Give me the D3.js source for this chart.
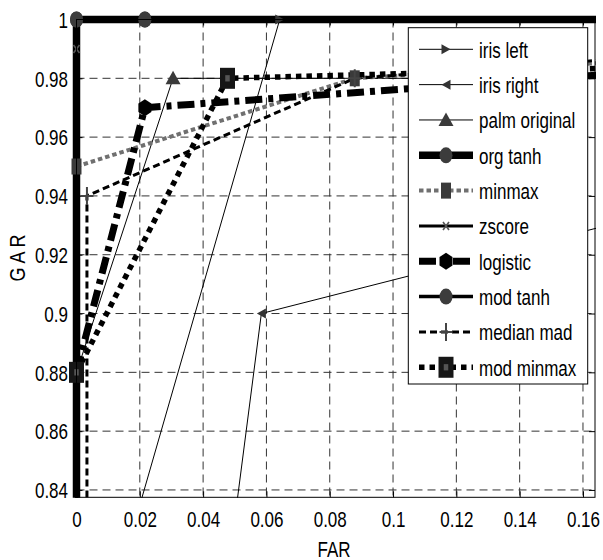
<!DOCTYPE html>
<html>
<head>
<meta charset="utf-8">
<script src="https://cdn.jsdelivr.net/npm/d3@7"></script>
<style>
  body { margin: 0; background: #fff; }
  svg { display: block; }
  text { font-family: "Liberation Sans", Arial, sans-serif; fill: #000; }
</style>
</head>
<body>
<svg id="chart" width="603" height="560"></svg>
<script>
// ---- data: [FAR, GAR] pairs per fusion method ----
const irisLeft     = [[0.0187, 0.83], [0.0642, 1.0]];
const irisRight    = [[0.0500, 0.83], [0.0584, 0.90], [0.1700, 0.9306]];
const palmOriginal = [[0, 0.88], [0.0305, 0.98], [0.1700, 0.98]];
const orgTanh      = [[0, 0.80], [0, 1.0], [0.0216, 1.0], [0.1700, 1.0]];
const minmax       = [[0, 0.95], [0.0879, 0.98], [0.1700, 0.9855]];
const zscore       = [[0, 0.80], [0, 0.99], [0, 1.0], [0.0216, 1.0], [0.1700, 1.0]];
const logistic     = [[0, 0.88], [0.0216, 0.97], [0.1700, 0.9815]];
const modTanh      = [[0, 0.80], [0, 1.0], [0.0216, 1.0], [0.1700, 1.0]];
const medianMad    = [[0.0033, 0.80], [0.0033, 0.94], [0.0879, 0.98], [0.1700, 0.9865]];
const modMinmax    = [[0, 0.88], [0.0477, 0.98], [0.1700, 0.9835]];

const seriesNames = ["iris left", "iris right", "palm original", "org tanh", "minmax",
                     "zscore", "logistic", "mod tanh", "median mad", "mod minmax"];
const seriesData  = [irisLeft, irisRight, palmOriginal, orgTanh, minmax,
                     zscore, logistic, modTanh, medianMad, modMinmax];

const farTicks = [0, 0.02, 0.04, 0.06, 0.08, 0.1, 0.12, 0.14, 0.16];
const farTickLabels = ["0", "0.02", "0.04", "0.06", "0.08", "0.1", "0.12", "0.14", "0.16"];
const garTicks = [0.84, 0.86, 0.88, 0.9, 0.92, 0.94, 0.96, 0.98, 1];
const garTickLabels = ["0.84", "0.86", "0.88", "0.9", "0.92", "0.94", "0.96", "0.98", "1"];

// ---- line / marker styles, in the same order as seriesNames ----
const styles = [
  { w: 1,   color: "#000", dash: null,        m: "right",  mw: 9,  mh: 10, fill: "#333" },
  { w: 1,   color: "#000", dash: null,        m: "left",   mw: 9,  mh: 10, fill: "#333" },
  { w: 1,   color: "#000", dash: null,        m: "up",     mw: 15, mh: 15, fill: "#3a3a3a" },
  { w: 7.5, color: "#000", dash: null,        m: "circle", mw: 13, mh: 16, fill: "#3c3c3c" },
  { w: 4,   color: "#707070", dash: "4.5,3",  m: "square", mw: 10, mh: 16, fill: "#3a3a3a" },
  { w: 3,   color: "#000", dash: null,        m: "x",      mw: 6,  mh: 8,  stroke: "#555", sw: 1.6 },
  { w: 7,   color: "#000", dash: "17,6,5,6",  m: "hex",    mw: 13, mh: 17, fill: "#000" },
  { w: 3.5, color: "#000", dash: null,        m: "circle", mw: 13, mh: 16, fill: "#3c3c3c" },
  { w: 3,   color: "#000", dash: "7,4",       m: "plus",   mw: 13, mh: 18, stroke: "#444", sw: 2 },
  { w: 5.5, color: "#000", dash: "5.5,5",     m: "square", mw: 15, mh: 21, fill: "#161616", inner: "#555" }
];

const svg = d3.select("#chart");
const plotLeft = 76.5, plotRight = 595, plotTop = 19.5, plotBottom = 497.3;

const x = d3.scaleLinear().domain([0, 0.1638]).range([plotLeft, plotRight]);
const y = d3.scaleLinear().domain([0.8375, 1]).range([plotBottom, plotTop]);

// ---- grid ----
const grid = svg.append("g").attr("stroke", "#333").attr("stroke-width", 1)
  .attr("stroke-dasharray", "8,5").attr("fill", "none");
grid.selectAll("line.v").data(farTicks.filter(d => d > 0)).join("line").attr("class", "v")
  .attr("x1", d => x(d)).attr("x2", d => x(d)).attr("y1", plotTop).attr("y2", plotBottom);
grid.selectAll("line.h").data(garTicks.filter(d => d < 1)).join("line").attr("class", "h")
  .attr("y1", d => y(d)).attr("y2", d => y(d)).attr("x1", plotLeft).attr("x2", plotRight);

// ---- axes (inward ticks on all four sides) ----
const axB = svg.append("g").attr("transform", `translate(0,${plotBottom})`)
  .call(d3.axisBottom(x).tickValues(farTicks).tickFormat((d, i) => farTickLabels[i])
    .tickSizeInner(-6).tickSizeOuter(0));
const axT = svg.append("g").attr("transform", `translate(0,${plotTop})`)
  .call(d3.axisTop(x).tickValues(farTicks).tickFormat("").tickSizeInner(-6).tickSizeOuter(0));
const axL = svg.append("g").attr("transform", `translate(${plotLeft},0)`)
  .call(d3.axisLeft(y).tickValues(garTicks).tickFormat((d, i) => garTickLabels[i])
    .tickSizeInner(-6).tickSizeOuter(0));
const axR = svg.append("g").attr("transform", `translate(${plotRight},0)`)
  .call(d3.axisRight(y).tickValues(garTicks).tickFormat("").tickSizeInner(-6).tickSizeOuter(0));

[axB, axT, axL, axR].forEach(a => {
  a.select(".domain").remove();
  a.selectAll(".tick line").attr("stroke", "#000");
});
axB.selectAll(".tick text")
  .attr("x", 0).attr("y", 0).attr("dy", 0)
  .attr("transform", "translate(0,29.4) scale(1,1.25)")
  .style("font-size", "17px").style("font-family", "'Liberation Sans', Arial, sans-serif");
axL.selectAll(".tick text")
  .attr("x", 0).attr("y", 0).attr("dy", 0).attr("text-anchor", "end")
  .attr("transform", "translate(-8.5,7.7) scale(1,1.25)")
  .style("font-size", "17px").style("font-family", "'Liberation Sans', Arial, sans-serif");

// ---- series ----
svg.append("defs").append("clipPath").attr("id", "plotClip")
  .append("rect").attr("x", plotLeft - 10).attr("y", plotTop - 10)
  .attr("width", plotRight + 1 - (plotLeft - 10)).attr("height", plotBottom + 0.5 - (plotTop - 10));

function markerPath(kind, w, h) {
  const a = w / 2, b = h / 2;
  switch (kind) {
    case "circle": return `M${-a},0A${a},${b} 0 1,0 ${a},0A${a},${b} 0 1,0 ${-a},0Z`;
    case "square": return `M${-a},${-b}H${a}V${b}H${-a}Z`;
    case "up":     return `M0,${-b}L${a},${b * 0.8}L${-a},${b * 0.8}Z`;
    case "right":  return `M${a},0L${-a},${-b}L${-a},${b}Z`;
    case "left":   return `M${-a},0L${a},${-b}L${a},${b}Z`;
    case "hex":    return `M0,${-b}L${a},${-b / 2}L${a},${b / 2}L0,${b}L${-a},${b / 2}L${-a},${-b / 2}Z`;
    case "plus":   return `M${-a},0H${a}M0,${-b}V${b}`;
    case "x":      return `M${-a},${-b}L${a},${b}M${a},${-b}L${-a},${b}`;
  }
}
function drawMarker(g, s, px, py) {
  const p = g.append("path").attr("d", markerPath(s.m, s.mw, s.mh))
    .attr("transform", `translate(${px},${py})`);
  if (s.m === "plus" || s.m === "x") {
    p.attr("fill", "none").attr("stroke", s.stroke).attr("stroke-width", s.sw);
  } else {
    p.attr("fill", s.fill).attr("stroke", "none");
  }
  if (s.inner) {
    g.append("path").attr("d", markerPath("square", s.mw * 0.3, s.mh * 0.3))
      .attr("transform", `translate(${px},${py})`).attr("fill", s.inner);
  }
}

const line = d3.line().x(d => x(d[0])).y(d => y(d[1]));
const plot = svg.append("g");
const lineLayer = plot.append("g").attr("clip-path", "url(#plotClip)");
seriesData.forEach((data, i) => {
  const s = styles[i];
  lineLayer.append("path").datum(data).attr("d", line)
    .attr("fill", "none").attr("stroke", s.color).attr("stroke-width", s.w)
    .attr("stroke-dasharray", s.dash).attr("stroke-linejoin", "miter")
    .attr("stroke-linecap", "butt");
  const mg = plot.append("g");
  data.filter(d => d[0] >= 0 && d[0] <= 0.1638 && d[1] >= 0.8375 && d[1] <= 1)
    .forEach(d => drawMarker(mg, s, x(d[0]), y(d[1])));
});

// ---- axes box ----
svg.append("rect").attr("x", plotLeft).attr("y", plotTop)
  .attr("width", plotRight - plotLeft).attr("height", plotBottom - plotTop)
  .attr("fill", "none").attr("stroke", "#000").attr("stroke-width", 1);

// ---- axis titles ----
svg.append("text").text("FAR")
  .attr("text-anchor", "middle").style("font-size", "17px")
  .attr("transform", "translate(334,556.5) scale(1,1.25)");
svg.append("text").text("G A R")
  .attr("text-anchor", "middle").style("font-size", "18px")
  .attr("transform", "translate(25,258) rotate(-90) scale(1,1.25)");

// ---- legend ----
const lg = svg.append("g");
lg.append("rect").attr("x", 408.3).attr("y", 27.7).attr("width", 179.4).attr("height", 356.3)
  .attr("fill", "#fff").attr("stroke", "#000").attr("stroke-width", 1);
seriesNames.forEach((name, i) => {
  const s = styles[i];
  const cy = 49.3 + i * 35.33;
  lg.append("line").attr("x1", 419).attr("x2", 473).attr("y1", cy).attr("y2", cy)
    .attr("stroke", s.color).attr("stroke-width", s.w).attr("stroke-dasharray", s.dash);
  drawMarker(lg, s, 446, cy);
  lg.append("text").text(name).style("font-size", "17px")
    .attr("transform", `translate(479,${cy + 8.4}) scale(1,1.25)`);
});
</script>
</body>
</html>
